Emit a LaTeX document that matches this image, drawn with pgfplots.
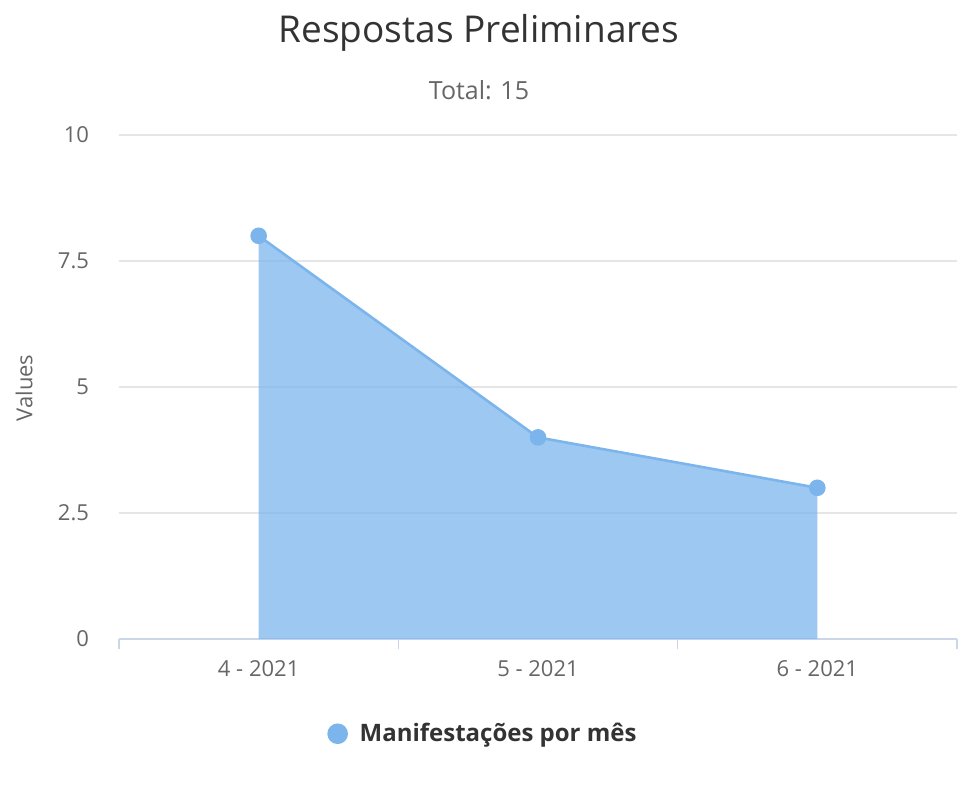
\documentclass[border=0pt]{standalone}
\usepackage{pgfplots}
\pgfplotsset{compat=1.18}
\usepackage{fontspec}
\setmainfont{Open Sans}
\definecolor{hcblue}{HTML}{7CB5EC}
\definecolor{gridc}{HTML}{E6E6E6}
\definecolor{axc}{HTML}{CCD6EB}
\definecolor{lab}{HTML}{666666}
\definecolor{ttl}{HTML}{333333}
\begin{document}
\begin{tikzpicture}[x=1pt,y=1pt]
\path[use as bounding box] (0,0) rectangle (482.5,394.5);
\begin{axis}[
  at={(59.5pt,75pt)}, anchor=south west,
  scale only axis, width=419pt, height=252pt,
  xmin=-0.5, xmax=2.5, ymin=0, ymax=10,
  axis x line*=bottom, axis y line*=left,
  y axis line style={draw=none},
  x axis line style={draw=axc, line width=0.6pt},
  ytick={0,2.5,5,7.5,10},
  ytick style={draw=none},
  ymajorgrids, grid style={draw=gridc, line width=0.6pt},
  xtick={-0.5,0.5,1.5,2.5},
  xticklabels={},
  xtick style={draw=axc, line width=0.6pt},
  major tick length=5pt, tick align=outside,
  extra x ticks={0,1,2},
  extra x tick labels={4 - 2021,5 - 2021,6 - 2021},
  extra x tick style={major tick length=0pt, grid=none, tick style={draw=none}},
  tick label style={font=\fontsize{11}{13}\selectfont, text=lab},
  /pgf/number format/assume math mode=true,
  xticklabel style={yshift=-7pt},
  y tick label style={xshift=-6.5pt},
  legend style={at={(0.241,-0.188)}, anchor=west, draw=none, fill=none, font=\fontsize{12}{14}\selectfont\bfseries, text=ttl},
  legend image code/.code={\path[draw=none,fill=none] (-4.5pt,0) -- (9pt,0); \fill[hcblue] (0pt,0) circle (4.5pt);},
  clip=false,
]
\addplot[draw=none, fill=hcblue, fill opacity=0.75, forget plot] coordinates {(0,0) (0,8) (1,4) (2,3) (2,0)} -- cycle;
\addplot[hcblue, line width=1.3pt, mark=*, mark size=3.5pt, mark options={fill=hcblue, draw=hcblue}] coordinates {(0,8) (1,4) (2,3)};
\addlegendentry{Manifestações por mês}
\end{axis}
\node[text=ttl, font=\fontsize{18.5}{22}\selectfont] at (239.5,378) {Respostas Preliminares};
\node[text=lab, font=\fontsize{12.5}{15}\selectfont] at (239.5,349.5) {Total: 15};
\node[text=lab, font=\fontsize{11}{13}\selectfont, rotate=90] at (12,200.5) {Values};
\end{tikzpicture}
\end{document}
